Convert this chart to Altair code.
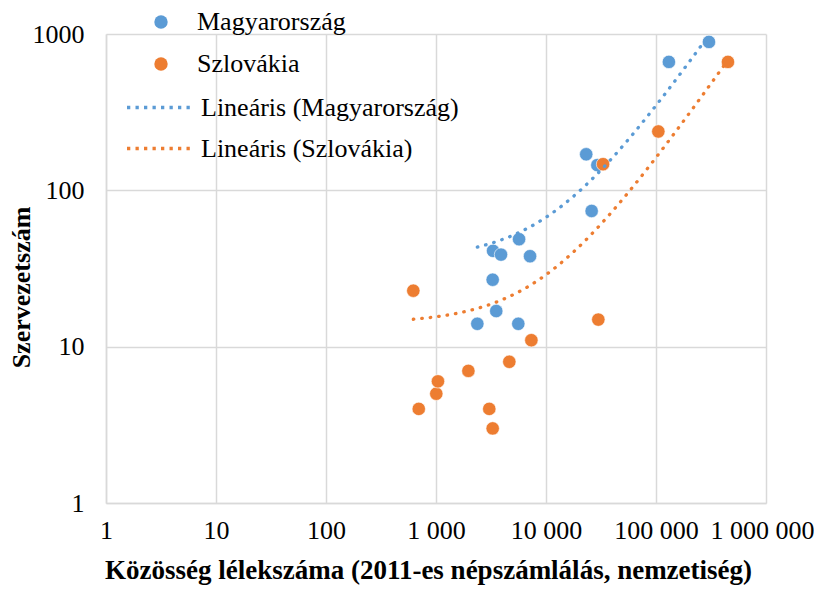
import altair as alt
import pandas as pd

# Data
hu_x = [2375, 3275, 3300, 3530, 3900, 5600, 5690, 7160, 23200, 26000, 29300, 131000, 303000]
hu_y = [14, 26.8, 41, 16.9, 38.8, 14, 48.7, 37.9, 170, 73.8, 145, 663, 890]
sk_x = [622, 697, 1006, 1042, 1970, 3050, 3275, 4640, 7360, 29900, 33000, 105000, 451000]
sk_y = [22.8, 4, 5, 6, 7, 4, 3, 8, 11, 14.9, 147, 238, 663]

series_names = ["Magyarország", "Szlovákia"]
trend_names = ["Lineáris (Magyarország)", "Lineáris (Szlovákia)"]
colors = ["#5B9BD5", "#ED7D31"]
x_ticks = [1, 10, 100, 1000, 10000, 100000, 1000000]
y_ticks = [1, 10, 100, 1000]

df = pd.DataFrame({
    "x": hu_x + sk_x,
    "y": hu_y + sk_y,
    "series": [series_names[0]] * len(hu_x) + [series_names[1]] * len(sk_x),
})

FONT = "Liberation Serif"

xscale = alt.Scale(type="log", domain=[1, 1000000])
yscale = alt.Scale(type="log", domain=[1, 1000])

xaxis = alt.Axis(
    values=x_ticks,
    labelExpr="join(split(format(datum.value, ','), ','), ' ')",
    labelOffset={"condition": {"test": "datum.value == 1000000", "value": -4}, "value": 0},
    title="Közösség lélekszáma (2011-es népszámlálás, nemzetiség)",
    labelPadding=14, titlePadding=14, titleFontSize=27, titleX=322,
)
yaxis = alt.Axis(
    values=y_ticks, format="d",
    title="Szervezetszám",
    labelPadding=22,
    titleX=-77, titleY=253, titleBaseline="alphabetic", titleAlign="center", titleAngle=270,
)

base = alt.Chart(df)

points = base.mark_circle(size=180, opacity=1, stroke="white", strokeWidth=0.6).encode(
    x=alt.X("x:Q", scale=xscale, axis=xaxis),
    y=alt.Y("y:Q", scale=yscale, axis=yaxis),
    color=alt.Color(
        "series:N",
        scale=alt.Scale(domain=series_names, range=colors),
        legend=alt.Legend(
            title=None, orient="none", legendX=42, legendY=-25,
            symbolType="circle", symbolSize=180, symbolStrokeWidth=0,
            labelOffset=23, rowPadding=16, padding=0,
        ),
    ),
)

trend = base.transform_joinaggregate(
    xmin="min(x)", xmax="max(x)", groupby=["series"]
).transform_regression(
    "x", "y", groupby=["series", "xmin", "xmax"], method="linear", params=True
).transform_calculate(
    t="sequence(0, 1.0001, 0.01)",
    gseries="datum.keys[0]",
    gxmin="datum.keys[1]",
    gxmax="datum.keys[2]",
).transform_flatten(
    ["t"]
).transform_calculate(
    lx="exp(log(datum.gxmin) + datum.t * (log(datum.gxmax) - log(datum.gxmin)))"
).transform_calculate(
    ly="datum.coef[0] + datum.coef[1] * datum.lx",
    trend="'Lineáris (' + datum.gseries + ')'",
).mark_line(strokeWidth=3.3, strokeDash=[0.5, 8], strokeCap="round", clip=True).encode(
    x=alt.X("lx:Q", scale=xscale),
    y=alt.Y("ly:Q", scale=yscale),
    stroke=alt.Stroke(
        "trend:N",
        scale=alt.Scale(domain=trend_names, range=colors),
        legend=alt.Legend(
            title=None, orient="none", legendX=19, legendY=60,
            symbolType="stroke", symbolSize=4624, symbolStrokeWidth=3.3,
            symbolDash=[3.3, 5.2], clipHeight=27,
            labelOffset=4, rowPadding=14, padding=0,
        ),
    ),
    detail="gseries:N",
)

chart = alt.layer(points, trend).properties(
    width=660, height=469,
    autosize=alt.AutoSizeParams(type="none"),
    padding={"left": 98, "top": 26, "right": 48, "bottom": 82},
    background="white",
).configure_view(stroke=None).configure_axis(
    ticks=False, grid=True, gridColor="#d9d9d9", gridWidth=1.5,
    domainColor="#d9d9d9", domainWidth=1.5,
    labelFont=FONT, labelFontSize=26, labelColor="black",
    labelFlush=False, labelOverlap=False,
    titleFont=FONT, titleFontSize=26, titleFontWeight="bold", titleColor="black",
).configure_legend(
    labelFont=FONT, labelFontSize=26, labelColor="black", labelLimit=0,
)

chart.save("out.html", embed_options={"renderer": "svg", "actions": False})
